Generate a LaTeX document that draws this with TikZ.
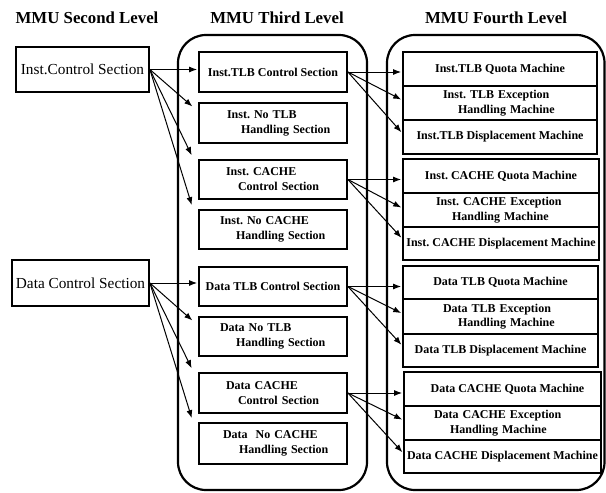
\documentclass[tikz,border=0pt]{standalone}
\usepackage{fontspec}
\setmainfont{Liberation Serif}
\usetikzlibrary{arrows.meta,calc}
\frenchspacing
\begin{document}
\begin{tikzpicture}[x=1pt,y=-1pt,
  every node/.style={inner sep=0pt},
  head/.style={font=\bfseries\fontsize{16.8}{20}\selectfont,anchor=base},
  lbox/.style={draw,line width=1.8pt,font=\fontsize{15.3}{18}\selectfont},
  tbox/.style={draw,line width=1.8pt,minimum width=148pt,minimum height=#1,
    font=\bfseries\fontsize{12}{15}\selectfont,align=center},
  gbox/.style={draw,line width=1.8pt,font=\bfseries\fontsize{12}{14.5}\selectfont,align=center},
  tl/.style={text width=#1,align=left},
  cont/.style={draw,line width=2.2pt,rounded corners=28pt},
  arr/.style={-{Latex[length=8pt,width=6pt]},line width=1pt,shorten >=1pt}
]
\useasboundingbox (0,0) rectangle (606,493);

% headers
\node[head] (h2) at (87,23) {MMU Second Level};
\node[head] (h3) at (277,23) {MMU Third Level};
\node[head] (h4) at (496,23) {MMU Fourth Level};

% containers
\draw[cont] (178,35) rectangle (367,490);
\draw[cont] (387,35) rectangle (604.5,490);

% second level
\node[lbox,minimum width=133pt,minimum height=45pt] (ic) at (82.5,69.5) {Inst.Control Section};
\node[lbox,minimum width=137pt,minimum height=46pt] (dc) at (80.5,283) {Data Control Section};

% third level
\node[tbox=40pt] (b1) at (273,72) {Inst.TLB Control Section};
\node[tbox=40pt,tl=148pt] (b2) at (273,123) {\hspace*{28pt}Inst. No TLB\\\hspace*{42pt}Handling Section};
\node[tbox=39pt,tl=148pt] (b3) at (273,179.5) {\hspace*{27pt}Inst. CACHE\\\hspace*{39pt}Control Section};
\node[tbox=39pt,tl=148pt] (b4) at (273,229.5) {\hspace*{21pt}Inst. No CACHE\\\hspace*{37pt}Handling Section};
\node[tbox=39pt] (b5) at (273,286.5) {Data TLB Control Section};
\node[tbox=39pt,tl=148pt] (b6) at (273,336.5) {\hspace*{21pt}Data No TLB\\\hspace*{37pt}Handling Section};
\node[tbox=40pt,tl=148pt] (b7) at (273,393) {\hspace*{27pt}Data CACHE\\\hspace*{39pt}Control Section};
\node[tbox=41pt,tl=148pt] (b8) at (273,443.5) {\hspace*{24pt}Data \ No CACHE\\\hspace*{40pt}Handling Section};

% fourth level, group 1
\node[gbox,minimum width=194pt,minimum height=34pt] (g1a) at (500,69) {Inst.TLB Quota Machine};
\node[gbox,minimum width=194pt,minimum height=34pt,tl=194pt] (g1b) at (500,103) {\hspace*{40pt}Inst. TLB Exception\\\hspace*{55pt}Handling Machine};
\node[gbox,minimum width=194pt,minimum height=34pt] (g1c) at (500,137) {Inst.TLB Displacement Machine};
% group 2
\node[gbox,minimum width=196pt,minimum height=34pt] (g2a) at (501,176) {Inst. CACHE Quota Machine};
\node[gbox,minimum width=196pt,minimum height=34pt,tl=196pt] (g2b) at (501,210) {\hspace*{33pt}Inst. CACHE Exception\\\hspace*{49pt}Handling Machine};
\node[gbox,minimum width=196pt,minimum height=33pt] (g2c) at (501,243.5) {Inst. CACHE Displacement Machine};
% group 3
\node[gbox,minimum width=195pt,minimum height=33pt] (g3a) at (500.5,282.5) {Data TLB Quota Machine};
\node[gbox,minimum width=195pt,minimum height=35pt,tl=195pt] (g3b) at (500.5,316.5) {\hspace*{40pt}Data TLB Exception\\\hspace*{55pt}Handling Machine};
\node[gbox,minimum width=195pt,minimum height=33pt] (g3c) at (500.5,350.5) {Data TLB Displacement Machine};
% group 4
\node[gbox,minimum width=197pt,minimum height=34pt] (g4a) at (502.5,389) {\hspace*{10pt}Data CACHE Quota Machine};
\node[gbox,minimum width=197pt,minimum height=34pt,tl=197pt] (g4b) at (502.5,423) {\hspace*{30pt}Data CACHE Exception\\\hspace*{46pt}Handling Machine};
\node[gbox,minimum width=197pt,minimum height=33pt] (g4c) at (502.5,456.5) {Data CACHE Displacement Machine};

% second -> third
\draw[arr] (ic.east) -- (ic.east -| b1.west);
\draw[arr] (ic.east) -- ($(b2.north west)+(-5,5)$);
\draw[arr] (ic.east) -- ($(b3.north west)+(-6,-3)$);
\draw[arr] (ic.east) -- ($(b4.north west)+(-6,-3)$);
\draw[arr] (dc.east) -- (dc.east -| b5.west);
\draw[arr] (dc.east) -- ($(b6.north west)+(-5,5)$);
\draw[arr] (dc.east) -- ($(b7.north west)+(-6,-3)$);
\draw[arr] (dc.east) -- ($(b8.north west)+(-6,-3)$);

% third -> fourth
\draw[arr] (b1.east) -- (b1.east -| g1a.west);
\draw[arr] (b1.east) -- ($(g1b.west)+(0,-3)$);
\draw[arr] (b1.east) -- ($(g1c.west)+(0,-4)$);
\draw[arr] (b3.east) -- (b3.east -| g2a.west);
\draw[arr] (b3.east) -- ($(g2b.west)+(0,-2)$);
\draw[arr] (b3.east) -- ($(g2c.west)+(0,-5)$);
\draw[arr] (b5.east) -- (b5.east -| g3a.west);
\draw[arr] (b5.east) -- ($(g3b.west)+(0,-3)$);
\draw[arr] (b5.east) -- ($(g3c.west)+(0,-5)$);
\draw[arr] (b7.east) -- (b7.east -| g4a.west);
\draw[arr] (b7.east) -- ($(g4b.west)+(0,-3)$);
\draw[arr] (b7.east) -- ($(g4c.west)+(0,-3.5)$);
\end{tikzpicture}
\end{document}
